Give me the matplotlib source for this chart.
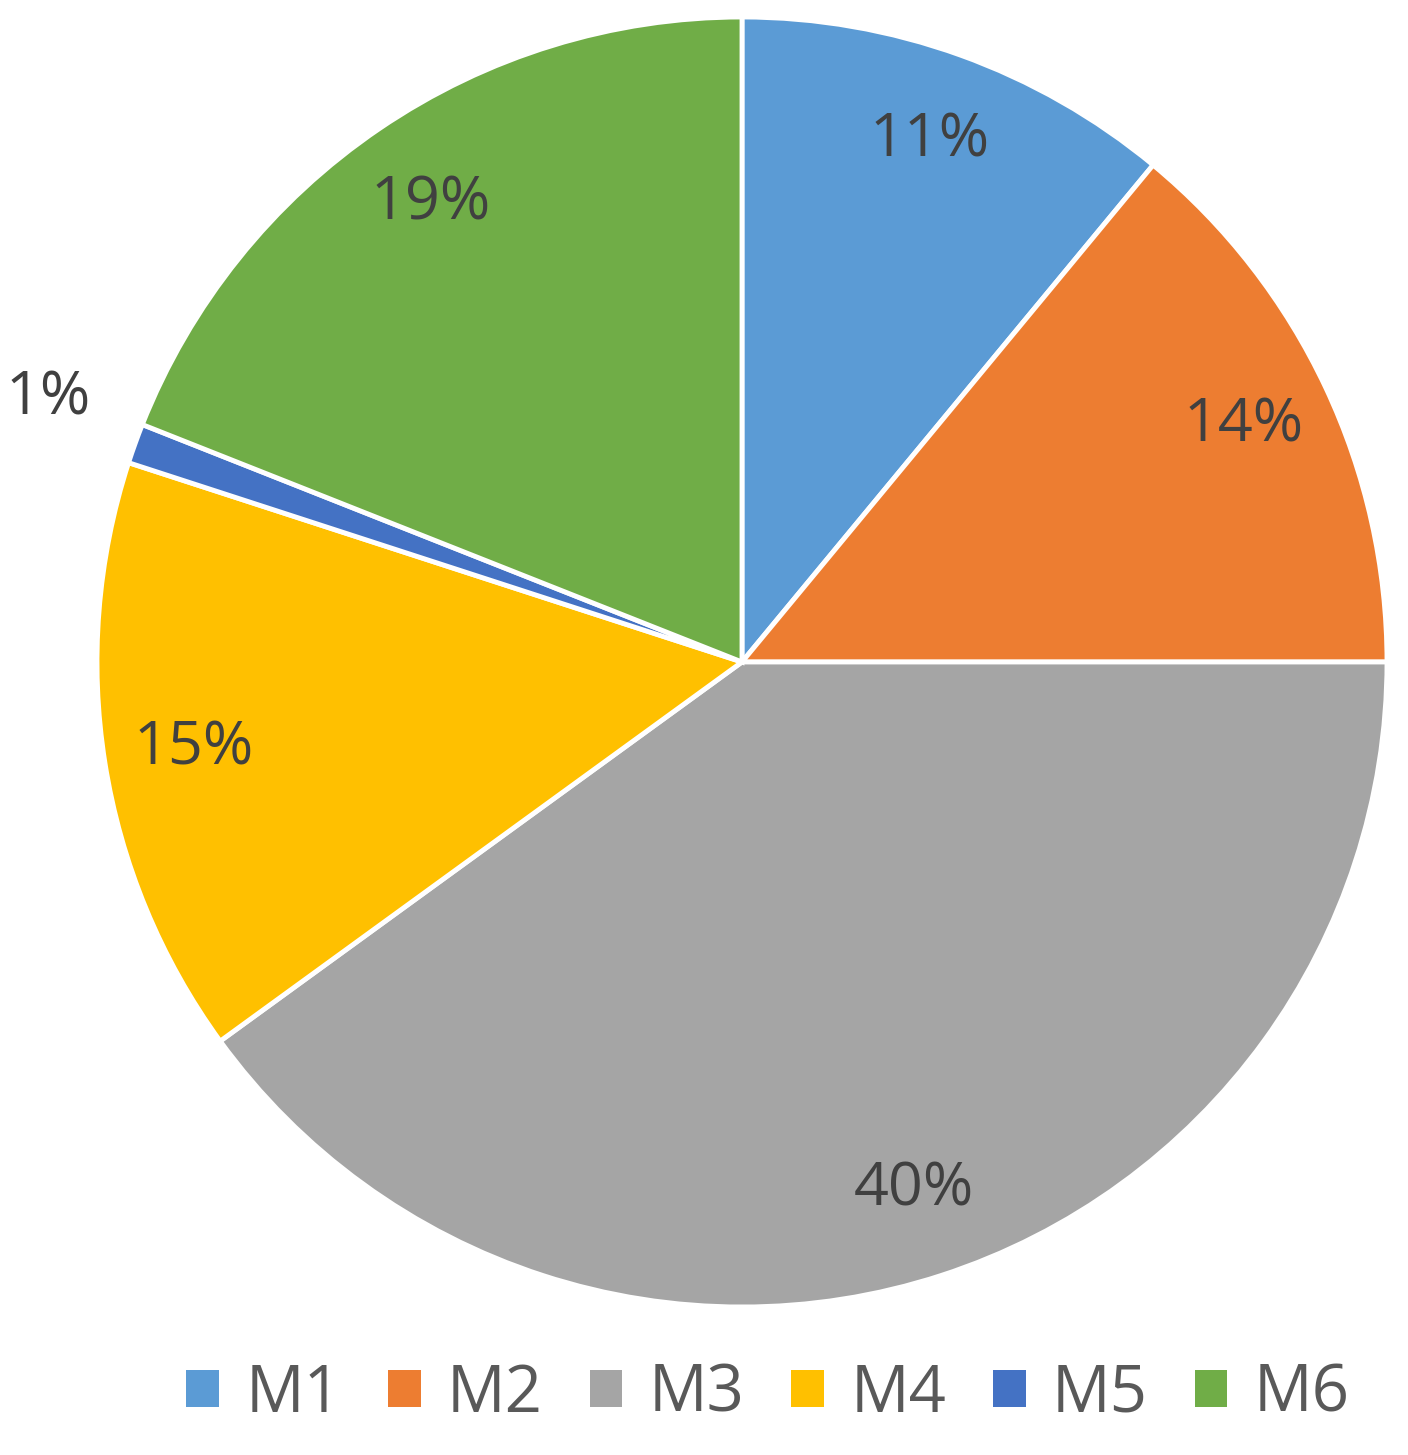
import numpy as np
import matplotlib.pyplot as plt
from matplotlib.patches import Patch

labels = ['M1', 'M2', 'M3', 'M4', 'M5', 'M6']
shares = [11, 14, 40, 15, 1, 19]
colors = ['#5B9BD5', '#ED7D31', '#A5A5A5', '#FFC000', '#4472C4', '#70AD47']

plt.rcParams['font.family'] = ['Open Sans', 'DejaVu Sans']

W, H = 1408, 1455
fig = plt.figure(figsize=(W / 100, H / 100), dpi=100)

# pie centre and radius in pixels
cx, cy, r = 742, 662, 645
ax = fig.add_axes([(cx - r) / W, (H - cy - r) / H, 2 * r / W, 2 * r / H])

wedges, texts, autotexts = ax.pie(
    shares, colors=colors, startangle=90, counterclock=False,
    autopct='%1.0f%%', pctdistance=0.86, radius=1,
    wedgeprops=dict(edgecolor='white', linewidth=3.5),
    textprops=dict(fontsize=44, color='#404040'))

# small slice label sits outside the pie
w = wedges[4]
mid = np.deg2rad((w.theta1 + w.theta2) / 2 - 1)
autotexts[4].set_position((1.15 * np.cos(mid), 1.15 * np.sin(mid)))

ax.set_xlim(-1, 1)
ax.set_ylim(-1, 1)
ax.set_aspect('equal')
ax.axis('off')

handles = [Patch(facecolor=c, edgecolor='none') for c in colors]
leg = fig.legend(handles, labels, loc='center', ncol=6,
                 bbox_to_anchor=(768 / W, 1 - 1395 / H), frameon=False,
                 fontsize=47, handlelength=0.5, handleheight=0.5,
                 handletextpad=0.4, columnspacing=0.72)
for t in leg.get_texts():
    t.set_color('#595959')

fig.savefig('out.png', dpi=100)
